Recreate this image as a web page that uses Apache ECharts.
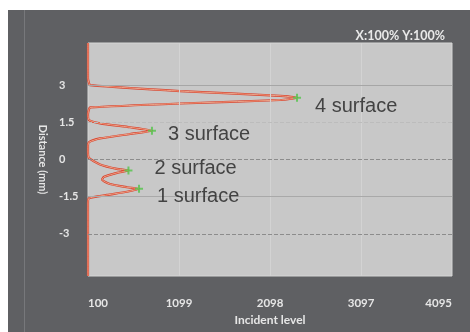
<!DOCTYPE html>
<html><head><meta charset="utf-8">
<script src="https://cdn.jsdelivr.net/npm/echarts@6/dist/echarts.min.js"></script>
<style>html,body{margin:0;padding:0;background:#fff}#c{width:470px;height:332px}</style>
</head><body><div id="c"></div>
<script>
// ---- data ----
const xTicks = [100, 1099, 2098, 3097, 4095];
const yTicks = [3, 1.5, 0, -1.5, -3];
// curve: incident level (x) vs distance in mm (y), top to bottom
const curveY = [4.7, 3.28, 3.08, 3.00, 2.76, 2.57, 2.49, 2.40, 2.26, 2.10, 2.03, 1.83,
                1.59, 1.46, 1.30, 1.16, 1.03, 0.85, 0.70, 0.54,
                0.30, 0.06, -0.20, -0.38, -0.44, -0.54, -0.70, -0.81, -0.99, -1.12, -1.18, -1.30, -1.43, -1.56, -1.75, -4.7];
const curveX = [100, 100, 111, 122, 1110, 2207, 2394, 2207, 1110, 122, 111, 100,
                111, 232, 561, 802, 561, 232, 111, 100,
                100, 111, 232, 418, 544, 418, 276, 254, 341, 528, 660, 528, 309, 111, 100, 100];
const peakNames = ['4 surface', '3 surface', '2 surface', '1 surface'];
const peakX = [2394, 802, 544, 660];
const peakY = [2.49, 1.16, -0.44, -1.18];
const titleText = 'X:100% Y:100%';

// ---- styles ----
const labelOffsets = [[9, 8.5], [7, 3.5], [17, -1.5], [9, 8]];
const yGridStyles = {
  '3':   { type: 'solid',  color: '#a6a6a6' },
  '1.5': { type: 'dashed', color: '#bcbcbc' },
  '0':   { type: 'dashed', color: '#8c8c8c' },
  '-1.5':{ type: 'solid',  color: '#a9a9a9' },
  '-3':  { type: 'dashed', color: '#8c8c8c' }
};
const axisFont = 'Lato';

const chart = echarts.init(document.getElementById('c'), null, { renderer: 'canvas' });
const curve = curveX.map((x, i) => [x, curveY[i]]);
const peaks = peakX.map((x, i) => ({
  value: [x, peakY[i]],
  name: peakNames[i],
  label: { offset: labelOffsets[i] }
}));

const gridLines = [];
xTicks.slice(1, -1).forEach(v => gridLines.push({ xAxis: v, lineStyle: { color: '#d3d3d3', width: 1, type: 'solid' } }));
yTicks.forEach(v => gridLines.push({ yAxis: v, lineStyle: Object.assign({ width: 1 }, yGridStyles[String(v)]) }));

chart.setOption({
  animation: false,
  backgroundColor: '#5f6063',
  title: {
    text: titleText, right: 20, top: 24,
    textStyle: { color: '#e9e9e9', fontSize: 12.5, fontWeight: 'bold', fontFamily: axisFont }
  },
  graphic: [
    { type: 'rect', left: 0, top: 0, shape: { width: 470, height: 10 }, style: { fill: '#ffffff' }, silent: true },
    { type: 'rect', left: 0, top: 0, shape: { width: 8, height: 332 }, style: { fill: '#ffffff' }, silent: true },
    { type: 'line', shape: { x1: 24.5, y1: 10, x2: 24.5, y2: 332 }, style: { stroke: '#77787b', lineWidth: 1 }, silent: true }
  ],
  grid: {
    left: 88, top: 43, width: 364, height: 233,
    show: true, backgroundColor: '#c8c8c8', borderColor: '#d6d6d6', borderWidth: 1
  },
  xAxis: {
    type: 'value', min: 100, max: 4095,
    name: 'Incident level', nameLocation: 'middle', nameGap: 37,
    nameTextStyle: { color: '#e6e6e6', fontSize: 12, fontWeight: 'bold', fontFamily: axisFont },
    axisLine: { show: false }, axisTick: { show: false }, splitLine: { show: false },
    axisLabel: {
      customValues: xTicks, margin: 21, alignMinLabel: 'left', alignMaxLabel: 'right',
      formatter: v => String(v),
      color: '#e6e6e6', fontSize: 11.5, fontWeight: 'bold', fontFamily: axisFont
    }
  },
  yAxis: {
    type: 'value', min: -4.7, max: 4.7,
    name: 'Distance (mm)', nameLocation: 'middle', nameGap: 36, nameRotate: -90,
    nameTextStyle: { color: '#e6e6e6', fontSize: 11, fontWeight: 'bold', fontFamily: axisFont },
    axisLine: { show: false }, axisTick: { show: false }, splitLine: { show: false },
    axisLabel: {
      customValues: yTicks, margin: 29, align: 'left',
      formatter: v => String(v),
      color: '#e6e6e6', fontSize: 11, fontWeight: 'bold', fontFamily: axisFont
    }
  },
  series: [
    {
      type: 'line', data: curve, showSymbol: false, smooth: 0.2, clip: true,
      lineStyle: { color: '#d8402c', width: 2.2 },
      markLine: { silent: true, symbol: 'none', label: { show: false }, data: gridLines },
      z: 3
    },
    {
      type: 'line', data: curve, showSymbol: false, smooth: 0.2, clip: true,
      lineStyle: { color: '#f3cfb0', width: 0.7 },
      z: 4
    },
    {
      type: 'scatter', data: peaks, symbol: 'path://M3,0H5V3H8V5H5V8H3V5H0V3H3Z', symbolSize: 8,
      itemStyle: { color: '#52c44a' },
      label: {
        show: true, position: 'right', formatter: '{b}', color: '#222222',
        fontSize: 20, fontFamily: 'Liberation Sans'
      },
      z: 5
    }
  ]
});
</script></body></html>
